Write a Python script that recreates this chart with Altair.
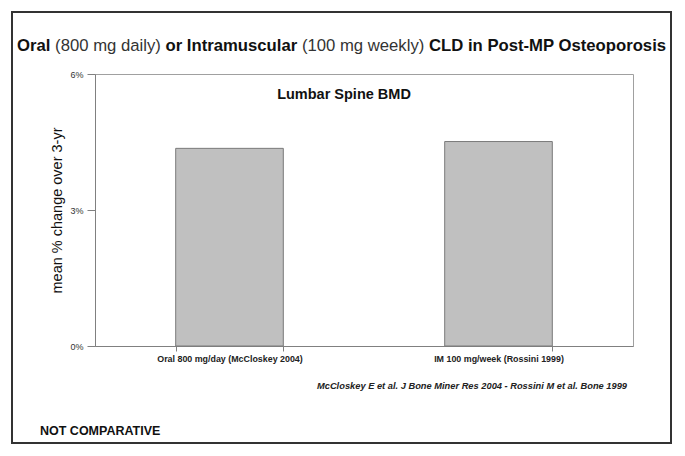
import altair as alt
import pandas as pd

categories = ["Oral 800 mg/day (McCloskey 2004)", "IM 100 mg/week (Rossini 1999)"]
values = [0.0436, 0.0451]
y_ticks = [0.0, 0.03, 0.06]

title_parts = ["Oral", "(800 mg daily)", "or", "Intramuscular", "(100 mg weekly)", "CLD in Post-MP Osteoporosis"]
title_bold = [True, False, True, True, False, True]
title_x = [-78, -39.9, 70.5, 91.8, 206.9, 334]

subtitle = "Lumbar Spine BMD"
citation = "McCloskey E et al. J Bone Miner Res 2004 - Rossini M et al. Bone 1999"
footnote = "NOT COMPARATIVE"
y_title = "mean % change over 3-yr"

FONT = "Liberation Sans"

df = pd.DataFrame({"cat": categories, "val": values})
one = pd.DataFrame({"k": [0]})

bars = alt.Chart(df).mark_bar(color="#c0c0c0", stroke="#7a7a7a", strokeWidth=1).encode(
    x=alt.X("cat:N", sort=categories, title=None,
            scale=alt.Scale(paddingInner=0.6, paddingOuter=0.3),
            axis=alt.Axis(labelAngle=0, labelFont=FONT, labelFontSize=8.9, labelFontWeight="bold",
                          labelColor="#222", tickBand="extent", tickSize=5, tickColor="#808080",
                          domainColor="#808080", labelPadding=3)),
    y=alt.Y("val:Q", title=y_title,
            scale=alt.Scale(domain=[0, 0.06], nice=False),
            axis=alt.Axis(values=y_ticks, format=".0%", grid=False, labelFont=FONT, labelFontSize=9,
                          labelColor="#333", tickSize=8, tickColor="#808080", domainColor="#808080",
                          titleFont=FONT, titleFontSize=14.5, titleFontWeight="normal", titleColor="#111",
                          titleX=-38, titleY=136, titleBaseline="middle", titleAlign="center",
                          labelPadding=4)),
)

layers = [bars]

frame = alt.Chart(one).mark_rect(fillOpacity=0, stroke="#333", strokeWidth=2).encode(
    x=alt.value(-83), x2=alt.value(576), y=alt.value(-62), y2=alt.value(369))
layers.append(frame)

for t, b, xp in zip(title_parts, title_bold, title_x):
    layers.append(alt.Chart(one).mark_text(
        text=t, font=FONT, fontSize=16.7, fontWeight="bold" if b else "normal",
        color="#111" if b else "#333", align="left", baseline="middle").encode(
        x=alt.value(xp), y=alt.value(-28)))

layers.append(alt.Chart(one).mark_text(
    text=subtitle, font=FONT, fontSize=14.5, fontWeight="bold", color="#111",
    align="center", baseline="middle").encode(x=alt.value(249), y=alt.value(21)))

layers.append(alt.Chart(one).mark_text(
    text=citation, font=FONT, fontSize=9.3, fontWeight="bold", fontStyle="italic", color="#222",
    align="right", baseline="middle").encode(x=alt.value(532), y=alt.value(312)))

layers.append(alt.Chart(one).mark_text(
    text=footnote, font=FONT, fontSize=12.5, fontWeight="bold", color="#111",
    align="left", baseline="middle").encode(x=alt.value(-55), y=alt.value(357)))

chart = alt.layer(*layers).properties(
    width=538, height=272,
    autosize=alt.AutoSizeParams(type="none"),
    padding={"left": 87, "top": 66, "right": 44, "bottom": 100},
    background="white",
).configure_view(stroke="#a0a0a0", strokeWidth=1)

chart.save("out.html", embed_options={"renderer": "svg", "actions": False})
